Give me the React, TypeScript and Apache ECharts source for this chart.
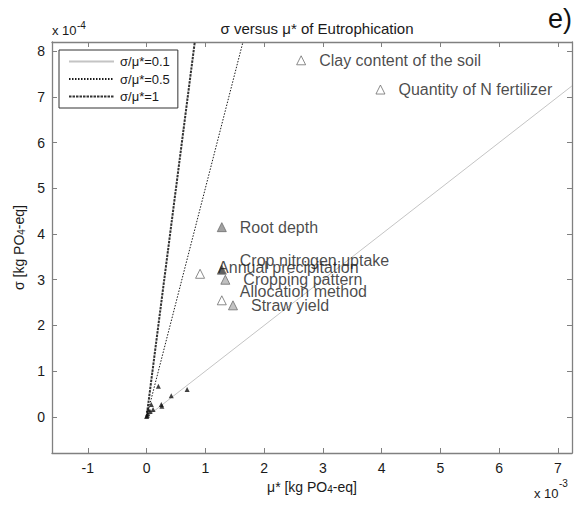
import React, { useEffect, useRef } from "react";
import * as echarts from "echarts";

// ---- data (μ* in units of 1e-3 kg PO4-eq, σ in units of 1e-4 kg PO4-eq) ----
const xTicks = [-1, 0, 1, 2, 3, 4, 5, 6, 7];
const yTicks = [0, 1, 2, 3, 4, 5, 6, 7, 8];

const factorNames = [
  "Clay content of the soil",
  "Quantity of N fertilizer",
  "Root depth",
  "Crop nitrogen uptake",
  "Annual precipitation",
  "Cropping pattern",
  "Allocation method",
  "Straw yield",
];
const factorMu = [2.63, 3.98, 1.28, 1.28, 0.91, 1.34, 1.28, 1.47];
const factorSigma = [7.8, 7.16, 4.15, 3.22, 3.13, 3.0, 2.55, 2.44];

const minorMu = [0.2, 0.42, 0.69, 0.25, 0.26, 0.08, 0.03, 0.11, 0.0, 0.02, 0.06, 0.01];
const minorSigma = [0.67, 0.46, 0.6, 0.27, 0.23, 0.27, 0.16, 0.16, 0.01, 0.07, 0.12, 0.03];

const ratios = [0.1, 0.5, 1];
const ratioLabels = ["σ/μ*=0.1", "σ/μ*=0.5", "σ/μ*=1"];

// ---- styles ----
const FONT = "'Liberation Sans', Arial, Helvetica, sans-serif";
const AXIS_GREY = "#808080";
const markerFill: Record<string, string> = {
  "Clay content of the soil": "#ffffff",
  "Quantity of N fertilizer": "#ffffff",
  "Root depth": "#8a8a8a",
  "Crop nitrogen uptake": "#3a3a3a",
  "Annual precipitation": "#ffffff",
  "Cropping pattern": "#b0b0b0",
  "Allocation method": "#ffffff",
  "Straw yield": "#b4b4b4",
};
const labelDy: Record<string, number> = {
  "Crop nitrogen uptake": -9,
  "Annual precipitation": -6,
  "Allocation method": -9,
};
const ratioStyles = [
  { color: "#c4c4c4", width: 1, type: "solid" as any },
  { color: "#1a1a1a", width: 1, type: [1.5, 1.5] as any },
  { color: "#333333", width: 2, type: [2.5, 1] as any },
];

const X_MIN = -1.61;
const X_MAX = 7.24;
const Y_MIN = -0.79;
const Y_MAX = 8.2;

function buildOption(): any {
  const ratioSeries = ratios.map((r, i) => {
    const slope = r * 10; // σ(1e-4) per μ*(1e-3)
    const xEnd = Math.min(X_MAX, Y_MAX / slope);
    return {
      name: ratioLabels[i],
      type: "line",
      data: [
        [0, 0],
        [xEnd, slope * xEnd],
      ],
      symbol: "none",
      showSymbol: false,
      lineStyle: ratioStyles[i],
      itemStyle: { color: ratioStyles[i].color },
      clip: true,
      z: 2,
      silent: true,
    };
  });

  const factorData = factorNames.map((n, i) => ({
    name: n,
    value: [factorMu[i], factorSigma[i]],
    itemStyle: { color: markerFill[n], borderColor: "#6e6e6e", borderWidth: 1 },
    label: { offset: [0, labelDy[n] || 0] },
  }));

  const minorData = minorMu.map((m, i) => [m, minorSigma[i]]);

  const axisCommon = {
    type: "value",
    splitLine: { show: false },
    axisLine: { show: true, onZero: false, lineStyle: { color: AXIS_GREY, width: 1.3 } },
  };

  return {
    animation: false,
    backgroundColor: "#ffffff",
    textStyle: { fontFamily: FONT },
    title: {
      text: "σ versus μ* of Eutrophication",
      left: 312,
      top: 16,
      textAlign: "center",
      textStyle: { fontFamily: FONT, fontSize: 15, fontWeight: "normal", color: "#1a1a1a" },
    },
    grid: { left: 52, right: 4, top: 42, bottom: 52, containLabel: false },
    legend: {
      data: ratioLabels,
      orient: "vertical",
      left: 59,
      top: 50,
      padding: [5, 8, 5, 9],
      itemWidth: 45,
      itemHeight: 12,
      itemGap: 4.5,
      borderColor: "#333",
      borderWidth: 1,
      backgroundColor: "#fff",
      selectedMode: false,
      itemStyle: { opacity: 0, borderWidth: 0 },
      textStyle: { fontFamily: FONT, fontSize: 13, color: "#1a1a1a", padding: [0, 0, 0, 1] },
    },
    xAxis: [
      {
        ...axisCommon,
        position: "bottom",
        min: X_MIN,
        max: X_MAX,
        name: "μ* [kg PO{sub|4}-eq]",
        nameLocation: "middle",
        nameGap: 27,
        nameTextStyle: {
          fontFamily: FONT,
          fontSize: 14,
          color: "#1a1a1a",
          rich: { sub: { fontFamily: FONT, fontSize: 10, color: "#1a1a1a", verticalAlign: "bottom", lineHeight: 10 } },
        },
        axisTick: { show: true, inside: true, length: 5, customValues: xTicks, lineStyle: { color: AXIS_GREY } },
        axisLabel: { show: true, customValues: xTicks, margin: 8, fontSize: 14, color: "#1a1a1a", fontFamily: FONT },
      },
      {
        ...axisCommon,
        position: "top",
        min: X_MIN,
        max: X_MAX,
        axisTick: { show: true, inside: true, length: 5, customValues: xTicks, lineStyle: { color: AXIS_GREY } },
        axisLabel: { show: false },
      },
    ],
    yAxis: [
      {
        ...axisCommon,
        position: "left",
        min: Y_MIN,
        max: Y_MAX,
        name: "σ [kg PO{sub|4}-eq]",
        nameLocation: "middle",
        nameGap: 23,
        nameRotate: 90,
        nameTextStyle: {
          fontFamily: FONT,
          fontSize: 14,
          color: "#1a1a1a",
          rich: { sub: { fontFamily: FONT, fontSize: 10, color: "#1a1a1a", verticalAlign: "bottom", lineHeight: 10 } },
        },
        axisTick: { show: true, inside: true, length: 5, customValues: yTicks, lineStyle: { color: AXIS_GREY } },
        axisLabel: { show: true, customValues: yTicks, margin: 7, fontSize: 14, color: "#1a1a1a", fontFamily: FONT },
      },
      {
        ...axisCommon,
        position: "right",
        min: Y_MIN,
        max: Y_MAX,
        axisTick: { show: true, inside: true, length: 5, customValues: yTicks, lineStyle: { color: AXIS_GREY } },
        axisLabel: { show: false },
      },
    ],
    series: [
      ...ratioSeries,
      {
        name: "minor",
        type: "scatter",
        data: minorData,
        symbol: "triangle",
        symbolSize: 5,
        itemStyle: { color: "#111" },
        z: 3,
        silent: true,
      },
      {
        name: "factors",
        type: "scatter",
        data: factorData,
        symbol: "triangle",
        symbolSize: 9,
        z: 4,
        silent: true,
        label: {
          show: true,
          position: "right",
          distance: 13,
          formatter: "{b}",
          fontFamily: FONT,
          fontSize: 16,
          color: "#1a1a1a",
        },
      },
    ],
    graphic: [
      { type: "text", left: 52, top: 24, style: { text: "x 10", font: `13px ${FONT}`, fill: "#1a1a1a" } },
      { type: "text", left: 77, top: 20, style: { text: "-4", font: `10px ${FONT}`, fill: "#1a1a1a" } },
      { type: "text", left: 534, top: 487, style: { text: "x 10", font: `13px ${FONT}`, fill: "#1a1a1a" } },
      { type: "text", left: 559, top: 478, style: { text: "-3", font: `10px ${FONT}`, fill: "#1a1a1a" } },
      { type: "text", left: 548, top: 5, style: { text: "e)", font: `27px ${FONT}`, fill: "#111" } },
    ],
  };
}

export default function App() {
  const ref = useRef<HTMLDivElement>(null);
  useEffect(() => {
    if (!ref.current) return;
    const chart = echarts.init(ref.current, null, { renderer: "svg" });
    chart.setOption(buildOption());
    return () => chart.dispose();
  }, []);
  return (
    <div
      ref={ref}
      style={{ position: "fixed", left: 0, top: 0, width: 576, height: 505, background: "#fff" }}
    />
  );
}
